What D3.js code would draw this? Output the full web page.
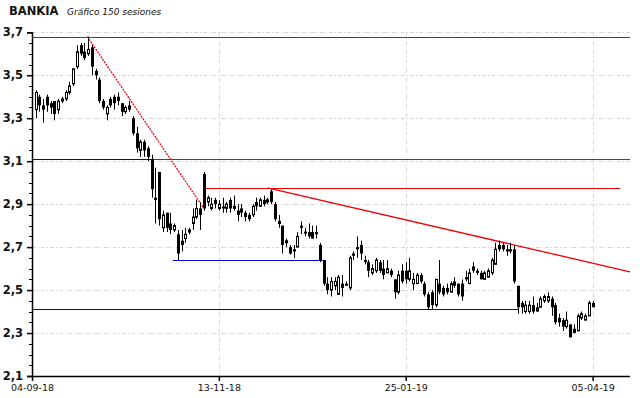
<!DOCTYPE html>
<html>
<head>
<meta charset="utf-8">
<script src="https://cdn.jsdelivr.net/npm/d3@7"></script>
<style>
  html, body { margin: 0; padding: 0; background: #fff; }
  svg { display: block; }
</style>
</head>
<body>
<div id="chart"></div>
<script>
// 150 sessions, index 1..150
const opens  = [3.34,3.40,3.36,3.40,3.37,3.38,3.34,3.38,3.39,3.42,3.46,3.54,3.64,3.61,3.60,3.63,3.52,3.48,3.38,3.32,
  3.39,3.40,3.40,3.37,3.33,3.36,3.30,3.23,3.15,3.19,3.16,3.11,2.93,3.05,2.79,2.86,2.81,2.78,2.76,2.73,
  2.74,2.77,2.81,2.84,2.88,3.04,2.91,2.88,2.92,2.88,2.89,2.88,2.92,2.88,2.87,2.88,2.86,2.85,2.85,2.91,
  2.89,2.92,2.91,2.96,2.90,2.81,2.80,2.72,2.70,2.69,2.70,2.80,2.77,2.77,2.77,2.77,2.71,2.64,2.53,2.50,
  2.52,2.48,2.53,2.53,2.51,2.67,2.70,2.71,2.64,2.63,2.58,2.59,2.63,2.60,2.58,2.59,2.55,2.49,2.59,2.59,
  2.55,2.53,2.53,2.57,2.53,2.48,2.49,2.43,2.53,2.51,2.51,2.49,2.54,2.53,2.53,2.56,2.53,2.61,2.59,2.58,
  2.55,2.56,2.58,2.62,2.71,2.71,2.69,2.69,2.69,2.52,2.44,2.40,2.40,2.43,2.42,2.42,2.45,2.45,2.46,2.43,
  2.37,2.36,2.33,2.34,2.32,2.31,2.37,2.36,2.38,2.44];
const highs  = [3.43,3.41,3.39,3.41,3.38,3.38,3.39,3.40,3.43,3.47,3.53,3.64,3.65,3.65,3.68,3.64,3.53,3.49,3.39,3.36,
  3.40,3.41,3.42,3.37,3.36,3.38,3.31,3.26,3.20,3.20,3.17,3.13,3.07,3.05,2.87,2.86,2.86,2.81,2.78,2.78,
  2.79,2.79,2.88,2.92,2.91,3.05,2.94,2.93,2.93,2.92,2.93,2.91,2.93,2.94,2.90,2.90,2.87,2.86,2.90,2.93,
  2.93,2.94,2.93,2.97,2.91,2.85,2.80,2.74,2.71,2.71,2.77,2.82,2.79,2.81,2.80,2.80,2.72,2.64,2.56,2.56,
  2.56,2.57,2.57,2.54,2.66,2.68,2.75,2.73,2.66,2.64,2.62,2.65,2.64,2.64,2.64,2.60,2.55,2.59,2.62,2.63,
  2.65,2.58,2.58,2.58,2.54,2.49,2.50,2.55,2.64,2.52,2.53,2.54,2.56,2.53,2.55,2.59,2.60,2.63,2.60,2.59,
  2.59,2.60,2.65,2.72,2.73,2.72,2.71,2.72,2.71,2.52,2.45,2.45,2.45,2.47,2.44,2.47,2.48,2.49,2.47,2.44,
  2.39,2.37,2.40,2.34,2.34,2.39,2.40,2.39,2.45,2.45];
const lows   = [3.30,3.33,3.28,3.33,3.32,3.29,3.32,3.37,3.38,3.41,3.45,3.53,3.59,3.57,3.59,3.50,3.48,3.37,3.34,3.29,
  3.35,3.34,3.36,3.31,3.32,3.33,3.22,3.14,3.12,3.12,3.10,2.93,2.81,2.80,2.77,2.77,2.76,2.77,2.64,2.68,
  2.72,2.76,2.78,2.83,2.78,2.87,2.89,2.87,2.88,2.87,2.86,2.86,2.86,2.87,2.82,2.84,2.82,2.82,2.84,2.87,
  2.89,2.89,2.90,2.90,2.82,2.79,2.67,2.70,2.665,2.65,2.70,2.76,2.75,2.74,2.74,2.74,2.63,2.52,2.48,2.47,
  2.50,2.48,2.47,2.52,2.50,2.64,2.65,2.64,2.62,2.56,2.57,2.58,2.58,2.55,2.58,2.56,2.46,2.48,2.53,2.53,
  2.54,2.50,2.53,2.53,2.47,2.41,2.41,2.42,2.48,2.47,2.48,2.49,2.51,2.47,2.45,2.54,2.53,2.58,2.57,2.55,
  2.55,2.56,2.57,2.62,2.68,2.68,2.66,2.67,2.53,2.39,2.39,2.39,2.39,2.39,2.40,2.42,2.44,2.44,2.38,2.34,
  2.33,2.31,2.32,2.28,2.30,2.31,2.36,2.36,2.38,2.42];
const closes = [3.42,3.36,3.34,3.36,3.35,3.32,3.38,3.39,3.42,3.45,3.53,3.61,3.60,3.58,3.62,3.54,3.50,3.38,3.35,3.35,
  3.36,3.37,3.38,3.33,3.35,3.34,3.23,3.16,3.19,3.15,3.12,2.97,2.92,2.83,2.85,2.79,2.78,2.80,2.67,2.71,
  2.76,2.78,2.84,2.88,2.85,2.88,2.93,2.90,2.90,2.90,2.88,2.90,2.88,2.89,2.85,2.86,2.84,2.83,2.89,2.89,
  2.92,2.90,2.92,2.91,2.83,2.82,2.71,2.73,2.67,2.68,2.75,2.79,2.77,2.75,2.74,2.76,2.64,2.53,2.50,2.54,
  2.54,2.56,2.51,2.52,2.65,2.66,2.69,2.67,2.63,2.59,2.60,2.64,2.59,2.57,2.60,2.57,2.49,2.57,2.54,2.55,
  2.59,2.55,2.57,2.54,2.48,2.42,2.43,2.55,2.49,2.48,2.49,2.53,2.52,2.48,2.47,2.55,2.58,2.59,2.58,2.55,
  2.58,2.59,2.64,2.69,2.69,2.69,2.68,2.68,2.54,2.42,2.42,2.43,2.43,2.40,2.40,2.46,2.47,2.47,2.42,2.35,
  2.35,2.33,2.36,2.28,2.30,2.38,2.39,2.38,2.44,2.42];

const tickIndex = [0, 50, 100, 150];
const tickLabels = ['04-09-18', '13-11-18', '25-01-19', '05-04-19'];
const yTicks = [2.1, 2.3, 2.5, 2.7, 2.9, 3.1, 3.3, 3.5, 3.7];

// support / resistance levels: [value, fromIndex, toIndex, kind]
const levels = [
  [3.677, 0, 160, 'res'],
  [3.11, 0, 32.1, 'sup'],
  [3.11, 32.1, 160, 'res'],
  [2.974, 46, 157.3, 'res'],
  [2.638, 37.7, 77.8, 'sup'],
  [2.41, 0, 130.2, 'sup']
];
// trend lines: [i0, v0, i1, v1, dotted]
const trends = [
  [14.8, 3.68, 45.8, 2.885, true],
  [63, 2.976, 160, 2.585, false]
];

const W = 640, H = 398;
const margin = { left: 32, right: 10, top: 32.3, bottom: 22 };

const svg = d3.select('#chart').append('svg')
  .attr('width', W)
  .attr('height', H)
  .attr('font-family', 'DejaVu Sans, Verdana, sans-serif');

const x = d3.scaleLinear().domain([0, 160]).range([margin.left, W - margin.right]);
const y = d3.scaleLinear().domain([2.1, 3.7]).range([H - margin.bottom, margin.top]);

// title
svg.append('text')
  .attr('x', 9).attr('y', 15)
  .attr('font-size', 11.5).attr('font-weight', 'bold')
  .attr('fill', '#111')
  .text('BANKIA');
svg.append('text')
  .attr('x', 67).attr('y', 15)
  .attr('font-size', 9).attr('font-style', 'italic')
  .attr('fill', '#111')
  .text('Gráfico 150 sesiones');

// grid
const grid = svg.append('g')
  .attr('stroke', '#d6d6d6')
  .attr('stroke-width', 1)
  .attr('stroke-dasharray', '4,2,1,2');
grid.selectAll('line.h')
  .data(yTicks.filter(d => d > 2.1))
  .join('line')
    .attr('x1', x(0)).attr('x2', x(160))
    .attr('y1', d => Math.round(y(d)) + 0.5)
    .attr('y2', d => Math.round(y(d)) + 0.5);
grid.selectAll('line.v')
  .data(tickIndex.filter(d => d > 0))
  .join('line')
    .attr('x1', d => Math.round(x(d)) + 0.5)
    .attr('x2', d => Math.round(x(d)) + 0.5)
    .attr('y1', y(3.7)).attr('y2', y(2.1));

// y axis
const yAxis = svg.append('g')
  .attr('transform', `translate(${x(0)},0)`)
  .call(d3.axisLeft(y)
    .tickValues(yTicks)
    .tickSize(5)
    .tickPadding(4)
    .tickFormat(d => d3.format('.1f')(d).replace('.', ',')));
yAxis.select('.domain').attr('stroke', '#000').attr('stroke-width', 1.5);
yAxis.selectAll('.tick line').attr('stroke', '#000').attr('stroke-width', 1.5);
yAxis.selectAll('.tick text')
  .attr('font-size', 11.5)
  .attr('font-weight', 'bold')
  .attr('font-family', 'DejaVu Sans, Verdana, sans-serif')
  .attr('fill', '#111');

// minor ticks
svg.append('g')
  .selectAll('line')
  .data(d3.range(2.15, 3.7, 0.05))
  .join('line')
    .attr('x1', x(0) - 3).attr('x2', x(0))
    .attr('y1', d => Math.round(y(d)) + 0.5)
    .attr('y2', d => Math.round(y(d)) + 0.5)
    .attr('stroke', '#000');

// x axis
const xAxis = svg.append('g')
  .attr('transform', `translate(0,${y(2.1)})`)
  .call(d3.axisBottom(x)
    .tickValues(tickIndex)
    .tickSize(5)
    .tickPadding(3)
    .tickFormat((d, i) => tickLabels[i]));
xAxis.select('.domain').attr('stroke', '#000').attr('stroke-width', 1.5).attr('d', `M${x(0)},0.5H${x(160)}`);
xAxis.selectAll('.tick line').attr('stroke', '#000').attr('stroke-width', 1.5);
xAxis.selectAll('.tick text')
  .attr('font-size', 9.5)
  .attr('font-family', 'DejaVu Sans, Verdana, sans-serif')
  .attr('fill', '#111');

// levels
svg.append('g')
  .selectAll('line')
  .data(levels)
  .join('line')
    .attr('x1', d => x(d[1])).attr('x2', d => x(d[2]))
    .attr('y1', d => Math.round(y(d[0])) + 0.5)
    .attr('y2', d => Math.round(y(d[0])) + 0.5)
    .attr('stroke', d => d[3] === 'res' ? '#ee0000' : '#0000cc')
    .attr('stroke-width', 1.2);

// trend lines
svg.append('g')
  .selectAll('line')
  .data(trends)
  .join('line')
    .attr('x1', d => x(d[0])).attr('y1', d => y(d[1]))
    .attr('x2', d => x(d[2])).attr('y2', d => y(d[3]))
    .attr('stroke', '#ee0000')
    .attr('stroke-width', d => d[4] ? 1.2 : 1.3)
    .attr('stroke-dasharray', d => d[4] ? '2,1' : null);

// candles
const candles = d3.range(150).map(i => ({
  i: i + 1, o: opens[i], h: highs[i], l: lows[i], c: closes[i]
}));

const cg = svg.append('g').selectAll('g')
  .data(candles)
  .join('g')
    .attr('transform', d => `translate(${Math.round(x(d.i))},0)`);

cg.append('line')
  .attr('x1', 0.5).attr('x2', 0.5)
  .attr('y1', d => y(d.h)).attr('y2', d => y(d.l))
  .attr('stroke', '#000');

cg.append('rect')
  .attr('x', d => d.c >= d.o ? -0.5 : -1)
  .attr('width', d => d.c >= d.o ? 2 : 3)
  .attr('y', d => y(Math.max(d.o, d.c)))
  .attr('height', d => Math.max(1, Math.abs(y(d.o) - y(d.c))))
  .attr('fill', d => d.c >= d.o ? '#fff' : '#000')
  .attr('stroke', d => d.c >= d.o ? '#000' : 'none');
</script>
</body>
</html>
